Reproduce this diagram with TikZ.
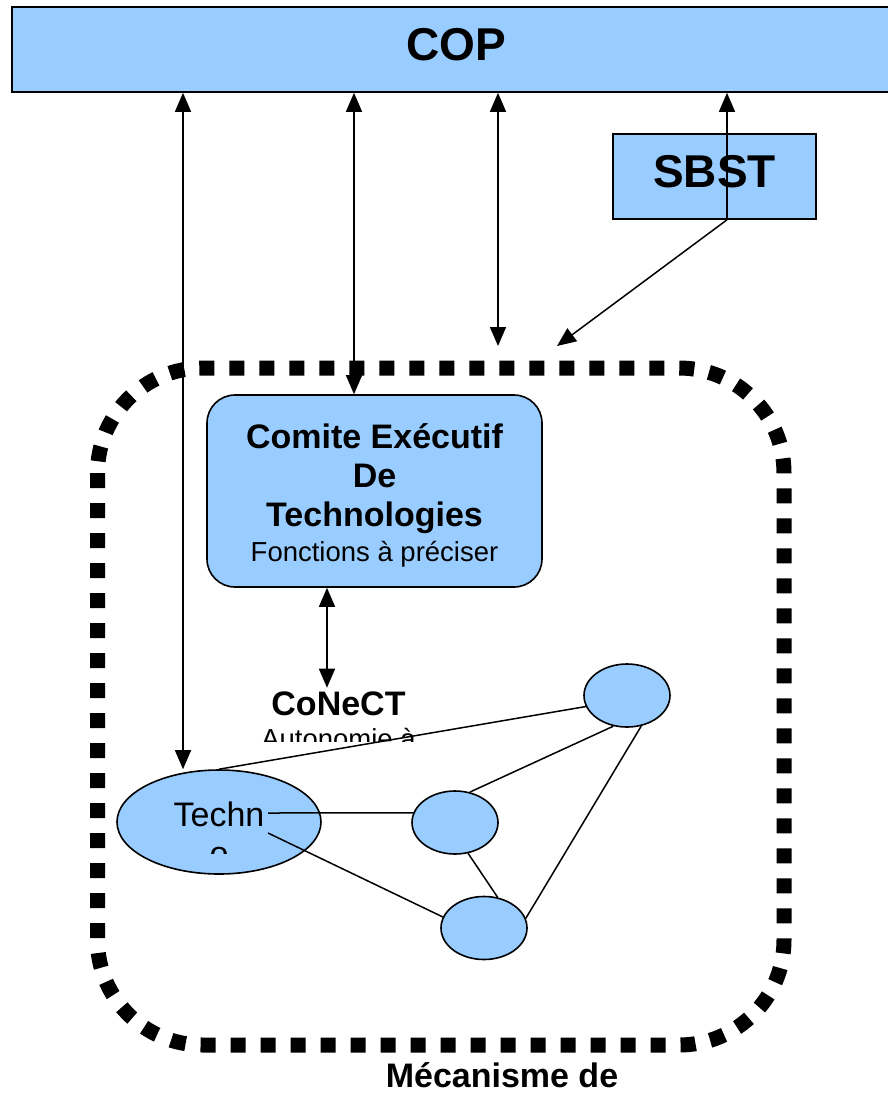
\documentclass[tikz,border=0pt]{standalone}
\usepackage{fontspec}
\setmainfont{Liberation Sans}
\usetikzlibrary{arrows.meta,shapes.geometric}
\definecolor{bleuclair}{HTML}{99CCFF}

\begin{document}
\begin{tikzpicture}[x=1pt,y=-1pt,
		boite/.style={draw,line width=1.6pt,fill=bleuclair,inner sep=0pt},
		bulle/.style={ellipse,draw,line width=1.6pt,fill=bleuclair,inner sep=0pt,minimum width=86pt,minimum height=63pt},
		fleche/.style={line width=1.5pt,-{Triangle[length=19pt,width=16pt]}},
		dfleche/.style={line width=1.5pt,{Triangle[length=19pt,width=16pt]}-{Triangle[length=19pt,width=16pt]}},
		lien/.style={line width=1.5pt},
		gros/.style={font=\fontsize{46}{50}\selectfont\bfseries},
		titre/.style={font=\fontsize{34}{39}\selectfont\bfseries}]
		
		\useasboundingbox (0,0) rectangle (888,1096);
		\clip (0,0) rectangle (888,1096);
		
		% COP and SBST
		\node[boite,gros,minimum width=888pt,minimum height=85pt,text depth=10pt] (cop) at (456,49.5) {COP};
		\node[boite,gros,minimum width=203pt,minimum height=85pt,text depth=10pt] (sbst) at (714.5,176.5) {SBST};
		
		% dotted frame of the mechanism
		\draw[line width=15pt,dash pattern=on 15pt off 15pt,rounded corners=105pt] (97.5,368) rectangle (784,1045);
		
		\node[boite,rounded corners=28pt,minimum width=335pt,minimum height=192pt] (comite) at (374.5,491) {};
		% base of a multi-line node = its last line
		\node[titre,anchor=base,align=center] (comitetxt) at (374.5,526) {Comite Exécutif\\De\\Technologies};
		\node[anchor=base,font=\fontsize{27.5}{33}\selectfont] (fonctions) at (374.5,561) {Fonctions à préciser};
		
		\node[titre,anchor=base] (conect) at (338.5,715) {CoNeCT};
		\begin{scope}
			\clip (200,700) rectangle (480,741);
			\node[anchor=base,font=\fontsize{27.5}{33}\selectfont] (autonomie) at (338.5,748) {Autonomie à};
		\end{scope}
		
		% network of technologies
		\node[bulle,minimum width=204pt,minimum height=104pt] (techno) at (219,822) {};
		\begin{scope}
			\clip (110,780) rectangle (330,853);
			\node[anchor=base,align=center,font=\fontsize{34}{39}\selectfont] (technotxt) at (219,865) {Techn\\o};
		\end{scope}
		\coordinate (tx1) at (268,813);
		\coordinate (tx2) at (268,833);
		
		\node[bulle] (techA) at (627,695.5) {};
		\node[bulle] (techB) at (455,822.5) {};
		\node[bulle] (techC) at (484,928) {};
		
		\foreach \a/\b in {techno.north/techA.195, tx1/techB.167, tx2/techC.165, techB.64/techA.246, techB.293/techC.66, techA.295/techC.13}
		\draw[lien] (\a) -- (\b);
		
		% arrows to COP
		\coordinate (xa) at (183,0);
		\coordinate (xb) at (354,0);
		\coordinate (xc) at (498,0);
		\coordinate (xd) at (727,0);
		\coordinate (xe) at (327,0);
		\coordinate (fc) at (498,346);
		\coordinate (fd) at (557,346);
		
		\draw[dfleche] (cop.south -| xa) -- (techno.north -| xa);
		\draw[dfleche] (cop.south -| xb) -- (comite.north -| xb);
		\draw[dfleche] (cop.south -| xc) -- (fc);
		\draw[fleche] (sbst.south -| xd) -- (cop.south -| xd);
		\draw[fleche] (sbst.south -| xd) -- (fd);
		\draw[dfleche] (comite.south -| xe) -- (conect.north -| xe);
		
		\node[titre,anchor=base] (mecanisme) at (502,1087) {Mécanisme de};
		
	\end{tikzpicture}
\end{document}
